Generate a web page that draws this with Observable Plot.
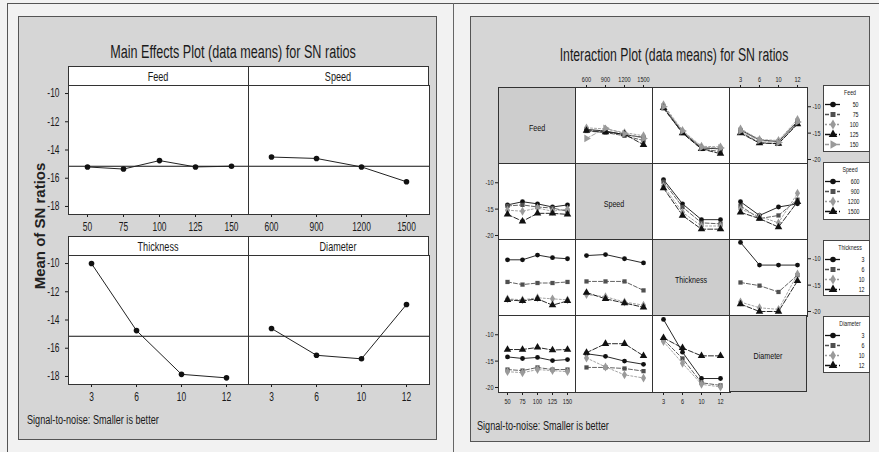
<!DOCTYPE html>
<html>
<head>
<meta charset="utf-8">
<script src="https://cdn.jsdelivr.net/npm/d3@7"></script>
<script src="https://cdn.jsdelivr.net/npm/@observablehq/plot@0.6"></script>
<style>
html,body{margin:0;padding:0;background:#fff;}
#root{position:relative;width:879px;height:452px;overflow:hidden;background:#f2f2f2;}
</style>
</head>
<body>
<div id="root"></div>
<script>
// ---------------- data ----------------
const factorNames = ["Feed", "Speed", "Thickness", "Diameter"];
const feedLevels = [50, 75, 100, 125, 150];
const speedLevels = [600, 900, 1200, 1500];
const thicknessLevels = [3, 6, 10, 12];
const diameterLevels = [3, 6, 10, 12];

const feedMeans = [-15.2, -15.35, -14.75, -15.2, -15.15];
const speedMeans = [-14.5, -14.6, -15.2, -16.25];
const thicknessMeans = [-10.0, -14.75, -17.85, -18.1];
const diameterMeans = [-14.6, -16.5, -16.75, -12.9];
const grandMean = -15.15;

const mainYTicks = [-10, -12, -14, -16, -18];
const interYTicks = [-10, -15, -20];

const titleMain = "Main Effects Plot (data means) for SN ratios";
const titleInter = "Interaction Plot (data means) for SN ratios";
const yLabelMain = "Mean of SN ratios";
const noteText = "Signal-to-noise: Smaller is better";

// interaction means: rows = levels of the series factor, columns = levels of the x factor
const feedBySpeed = [
  [-14.3, -14.6, -15.3, -15.8],
  [-14.6, -14.9, -15.5, -16.4],
  [-14.0, -14.2, -14.9, -15.5],
  [-14.5, -14.8, -15.2, -17.2],
  [-16.0, -14.1, -15.1, -16.0]];
const feedByThickness = [
  [-10.0, -14.8, -17.8, -18.0],
  [-10.3, -15.0, -18.0, -18.5],
  [-9.6, -14.5, -17.5, -17.6],
  [-10.2, -15.0, -18.0, -18.9],
  [-10.0, -14.6, -17.7, -17.8]];
const feedByDiameter = [
  [-14.4, -16.3, -16.6, -12.8],
  [-14.8, -16.8, -17.0, -13.1],
  [-14.2, -16.2, -16.4, -12.4],
  [-15.0, -16.9, -17.0, -13.3],
  [-14.6, -16.4, -16.8, -12.9]];
const speedByFeed = [
  [-14.2, -13.6, -14.0, -14.6, -14.2],
  [-14.4, -14.2, -14.6, -14.8, -15.4],
  [-15.2, -15.4, -14.8, -15.4, -15.0],
  [-16.0, -17.3, -15.8, -15.8, -16.0]];
const speedByThickness = [
  [-9.4, -14.0, -17.0, -17.0],
  [-9.8, -14.6, -17.6, -17.8],
  [-10.6, -15.6, -18.2, -18.2],
  [-11.0, -16.2, -18.8, -18.8]];
const speedByDiameter = [
  [-13.6, -16.2, -14.6, -14.0],
  [-14.4, -16.8, -16.2, -13.2],
  [-15.0, -16.4, -17.6, -12.0],
  [-15.6, -16.8, -18.4, -13.6]];
const thicknessByFeed = [
  [-10.2, -10.2, -9.3, -9.8, -10.0],
  [-14.4, -14.9, -14.6, -14.6, -14.4],
  [-17.6, -17.8, -17.4, -17.6, -17.8],
  [-17.8, -18.0, -17.6, -18.8, -18.0]];
const thicknessBySpeed = [
  [-9.4, -9.2, -10.0, -10.8],
  [-14.3, -14.3, -14.3, -16.0],
  [-16.8, -17.2, -18.2, -18.8],
  [-16.4, -17.6, -18.4, -19.2]];
const thicknessByDiameter = [
  [-6.9, -11.2, -11.2, -11.2],
  [-14.5, -15.1, -16.3, -13.1],
  [-18.2, -19.3, -19.6, -12.9],
  [-18.6, -20.0, -20.0, -14.2]];
const diameterByFeed = [
  [-14.2, -14.5, -14.3, -14.9, -14.7],
  [-16.6, -16.8, -16.2, -16.6, -16.6],
  [-17.0, -17.2, -16.6, -16.8, -17.0],
  [-12.8, -12.8, -12.4, -12.9, -12.8]];
const diameterBySpeed = [
  [-13.6, -14.1, -15.0, -15.6],
  [-16.2, -16.2, -16.4, -16.9],
  [-14.4, -16.1, -17.6, -18.2],
  [-13.4, -11.7, -11.7, -14.0]];
const diameterByThickness = [
  [-7.1, -13.3, -18.3, -18.3],
  [-10.9, -14.5, -19.1, -19.6],
  [-11.3, -15.4, -19.4, -19.9],
  [-10.6, -12.5, -14.0, -14.0]];

// ---------------- tables built from the arrays ----------------
const levelsOf = [feedLevels, speedLevels, thicknessLevels, diameterLevels];
const meansOf = [feedMeans, speedMeans, thicknessMeans, diameterMeans];
const interOf = [
  [null, feedBySpeed, feedByThickness, feedByDiameter],
  [speedByFeed, null, speedByThickness, speedByDiameter],
  [thicknessByFeed, thicknessBySpeed, null, thicknessByDiameter],
  [diameterByFeed, diameterBySpeed, diameterByThickness, null]];

const seriesStyles = [
  {stroke: "#111", fill: "#111", symbol: "circle", dash: undefined, r: 2.4, rotate: 0},
  {stroke: "#505050", fill: "#505050", symbol: "square", dash: "4,2", r: 2.4, rotate: 0},
  {stroke: "#9a9a9a", fill: "#9a9a9a", symbol: "diamond", dash: "2,2", r: 2.7, rotate: 0},
  {stroke: "#111", fill: "#111", symbol: "triangle", dash: "5,2", r: 2.8, rotate: 0},
  {stroke: "#9a9a9a", fill: "#9a9a9a", symbol: "triangle", dash: "4,2", r: 2.8, rotate: 90}];

// ---------------- helpers ----------------
const root = document.getElementById("root");
const SANS = "'Liberation Sans', Arial, Helvetica, sans-serif";
const K = 0.7;

function box(x, y, w, h, css) {
  const d = document.createElement("div");
  Object.assign(d.style, {position: "absolute", left: x + "px", top: y + "px", width: w + "px", height: h + "px", boxSizing: "border-box"}, css || {});
  root.appendChild(d);
  return d;
}
function label(str, x, y, o = {}) {
  const {size = 12, weight = "normal", k = K, rotate = 0, anchor = "middle", color = "#1a1a1a"} = o;
  const d = document.createElement("div");
  d.textContent = str;
  const start = anchor === "start";
  Object.assign(d.style, {
    position: "absolute", left: x + "px", top: y + "px", whiteSpace: "nowrap",
    fontFamily: SANS, fontSize: size + "px", fontWeight: weight, color, lineHeight: "1",
    transformOrigin: start ? "0 50%" : "50% 50%",
    transform: `translate(${start ? "0" : "-50%"},-50%) rotate(${rotate}deg) scaleX(${k})`
  });
  root.appendChild(d);
}
function mount(svg, x, y, k) {
  svg.style.position = "absolute";
  svg.style.left = x + "px";
  svg.style.top = y + "px";
  root.appendChild(svg);
  svg.querySelectorAll("text").forEach(t => {
    const L = t.getComputedTextLength();
    if (L > 0) {
      t.setAttribute("textLength", (L * k).toFixed(2));
      t.setAttribute("lengthAdjust", "spacingAndGlyphs");
    }
  });
}
const fmt = d => String(d);

// ---------------- page frame ----------------
box(7, 3, 872, 1, {background: "#555"});
box(7, 3, 1, 449, {background: "#555"});
box(453, 3, 1, 449, {background: "#666"});

// ---------------- left: main effects ----------------
box(18, 16, 419, 424, {background: "#d6d6d6", border: "1px solid #555"});
label(titleMain, 233, 52, {size: 18});
label(yLabelMain, 39, 226, {size: 15, weight: "bold", k: 1, rotate: -90, color: "#222"});
label(noteText, 27, 420, {size: 12, anchor: "start", k: 0.76});

const mainX = [68, 248], mainW = 180, stripH = 19;
const mainStripY = [66, 236], mainPlotH = 128;
const mainYDomain = [-18.57, -9.43];

factorNames.forEach((name, i) => {
  const col = i % 2, row = Math.floor(i / 2);
  const x = mainX[col], sy = mainStripY[row], py = sy + stripH;
  box(x, sy, mainW + 1, stripH + 1, {background: "#fff", border: "1px solid #333"});
  label(name, x + mainW / 2, sy + stripH / 2 + 0.5, {size: 13});
  const data = levelsOf[i].map((l, j) => ({level: l, value: meansOf[i][j]}));
  const marks = [
    Plot.ruleY([grandMean], {stroke: "#111", strokeWidth: 1.2}),
    Plot.line(data, {x: "level", y: "value", stroke: "#222", strokeWidth: 1}),
    Plot.dot(data, {x: "level", y: "value", r: 2.8, fill: "#111"}),
    Plot.axisX({anchor: "bottom", tickSize: 3, tickPadding: 5, tickFormat: fmt, label: null})
  ];
  if (col === 0) marks.push(Plot.axisY({anchor: "left", ticks: mainYTicks, tickSize: 3, tickPadding: 6, tickFormat: fmt, label: null}));
  marks.push(Plot.frame({stroke: "#333"}));
  const svg = Plot.plot({
    width: mainW + 1, height: mainPlotH + 1, margin: 0,
    x: {type: "point", domain: levelsOf[i], padding: 0.5, axis: null},
    y: {domain: mainYDomain, axis: null},
    style: {overflow: "visible", background: "#fff", fontFamily: SANS, fontSize: "12px", color: "#1a1a1a"},
    marks
  });
  mount(svg, x, py, K);
});

// ---------------- right: interaction ----------------
box(470, 16, 400, 426, {background: "#d6d6d6", border: "1px solid #555"});
label(titleInter, 674, 55, {size: 18, k: 0.68});
label(noteText, 477, 426, {size: 12, anchor: "start", k: 0.76});

const cellX = [498, 575, 652, 729], cellY = [87, 163, 239, 315], cw = 77, ch = 76;
const interYDomain = [-20.95, -6.35];

for (let r = 0; r < 4; r++) {
  for (let c = 0; c < 4; c++) {
    const x = cellX[c], y = cellY[r];
    if (r === c) {
      box(x, y, cw + 1, ch + 1, {background: "#cdcdcd", border: "1px solid #333"});
      label(factorNames[r], x + cw / 2, y + ch / 2 + 3, {size: 9.5, k: 0.75, color: "#111"});
      continue;
    }
    const vals = interOf[r][c];
    const xLevels = levelsOf[c];
    const data = vals.flatMap((row, si) => row.map((v, xi) => ({x: xLevels[xi], y: v, s: si})));
    const marks = [];
    vals.forEach((row, si) => {
      const st = seriesStyles[si];
      marks.push(Plot.line(data.filter(d => d.s === si), {x: "x", y: "y", stroke: st.stroke, strokeWidth: 0.9, strokeDasharray: st.dash}));
    });
    vals.forEach((row, si) => {
      const st = seriesStyles[si];
      marks.push(Plot.dot(data.filter(d => d.s === si), {x: "x", y: "y", symbol: st.symbol, r: st.r, fill: st.fill, rotate: st.rotate}));
    });
    if (r === 0 && (c === 1 || c === 3)) marks.push(Plot.axisX({anchor: "top", tickSize: 3, tickPadding: 3, tickFormat: fmt, label: null}));
    if (r === 3 && (c === 0 || c === 2)) marks.push(Plot.axisX({anchor: "bottom", tickSize: 3, tickPadding: 3, tickFormat: fmt, label: null}));
    if (c === 0 && (r === 1 || r === 3)) marks.push(Plot.axisY({anchor: "left", ticks: interYTicks, tickSize: 3, tickPadding: 2, tickFormat: fmt, label: null}));
    if (c === 3 && (r === 0 || r === 2)) marks.push(Plot.axisY({anchor: "right", ticks: interYTicks, tickSize: 3, tickPadding: 2, tickFormat: fmt, label: null}));
    marks.push(Plot.frame({stroke: "#333"}));
    const svg = Plot.plot({
      width: cw + 1, height: ch + 1, margin: 0,
      x: {type: "point", domain: xLevels, padding: 0.5, axis: null},
      y: {domain: interYDomain, axis: null},
      style: {overflow: "visible", background: "#fff", fontFamily: SANS, fontSize: "8px", color: "#1a1a1a"},
      marks
    });
    mount(svg, x, y, K);
  }
}

// ---------------- legends ----------------
const legendBoxes = [
  {x: 823, y: 85, w: 47, h: 67, right: 35},
  {x: 823, y: 162, w: 47, h: 58, right: 36},
  {x: 823, y: 240, w: 47, h: 56, right: 41},
  {x: 823, y: 316, w: 47, h: 57, right: 41}];
factorNames.forEach((name, i) => {
  const b = legendBoxes[i];
  box(b.x, b.y, b.w, b.h, {background: "#fff", border: "1px solid #444"});
  label(name, b.x + b.w / 2 + 3, b.y + 7, {size: 7, k: 0.75});
  const entries = levelsOf[i].map((l, j) => ({l: String(l), j}));
  const top = 17.5, step = 10.8;
  const marks = [];
  entries.forEach(e => {
    const st = seriesStyles[e.j];
    marks.push(Plot.ruleY([e], {y: "l", stroke: st.stroke, strokeWidth: 1.3, strokeDasharray: st.dash}));
  });
  entries.forEach(e => {
    const st = seriesStyles[e.j];
    marks.push(Plot.dot([e], {y: "l", symbol: st.symbol, r: st.r + 0.4, fill: st.fill, rotate: st.rotate}));
  });
  marks.push(Plot.text(entries, {y: "l", text: "l", frameAnchor: "right", textAnchor: "end", dx: b.right - 17, fill: "#111"}));
  const svg = Plot.plot({
    width: b.w, height: b.h,
    marginLeft: 2, marginRight: b.w - 17, marginTop: top,
    marginBottom: b.h - top - (entries.length - 1) * step,
    y: {type: "point", domain: entries.map(e => e.l), padding: 0, axis: null},
    style: {overflow: "visible", background: "transparent", fontFamily: SANS, fontSize: "7.5px", color: "#111"},
    marks
  });
  mount(svg, b.x, b.y, K);
});
</script>
</body>
</html>
